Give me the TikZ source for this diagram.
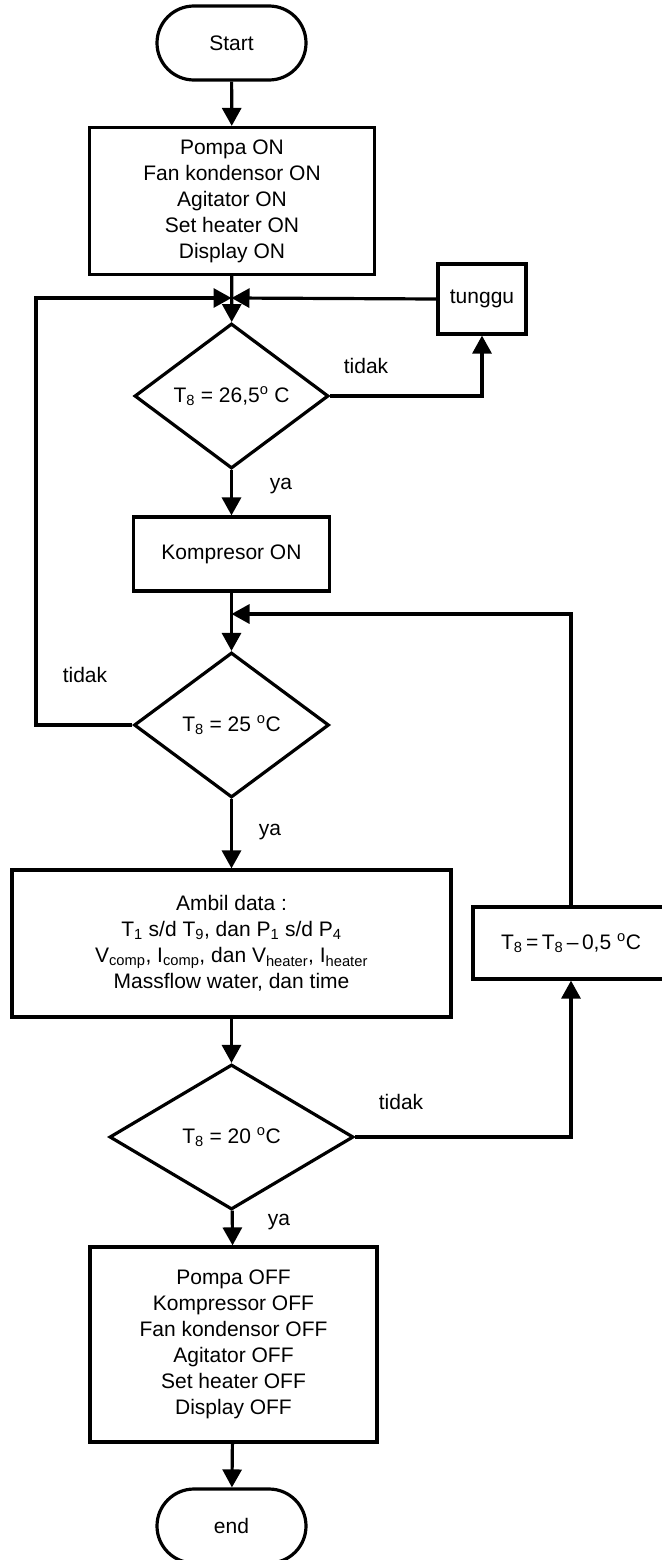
\documentclass[tikz,border=0pt]{standalone}
\usepackage{fontspec}
\setmainfont{Liberation Sans}
\usetikzlibrary{arrows.meta,shapes.geometric}
\begin{document}
\begin{tikzpicture}[x=1pt,y=-1pt,
  every node/.style={font=\fontsize{21}{26}\selectfont},
  box/.style={draw, rectangle, align=center, inner sep=0pt, line width=3.2pt},
  term/.style={draw, rectangle, rounded corners=37pt, minimum width=149pt, minimum height=74pt, line width=3.2pt},
  dec/.style={draw, diamond, inner sep=0pt, minimum height=145pt, line width=3.2pt},
  lbl/.style={inner sep=0pt},
  arr/.style={line width=3.2pt, -{Triangle[length=18pt,width=19pt]}},
  ln/.style={line width=3.2pt}]
\useasboundingbox (0,0) rectangle (661,1560);
% nodes
\node[term] (start) at (231.5,43) {Start};
\node[box, minimum width=285pt, minimum height=147pt] (b1) at (232,201)
  {Pompa ON\\Fan kondensor ON\\Agitator ON\\Set heater ON\\Display ON};
\coordinate (J) at (231.5,298);
\node[box, minimum width=88pt, minimum height=70pt] (tunggu) at (482,299) {tunggu};
\node[dec, minimum width=194pt] (d1) at (231.5,396) {T\textsubscript{8} = 26,5\textsuperscript{o} C};
\node[box, minimum width=196pt, minimum height=74pt] (komp) at (231.5,554) {Kompresor ON};
\coordinate (J2) at (231.5,614);
\node[dec, minimum width=195pt] (d2) at (231.5,725) {T\textsubscript{8} = 25 \textsuperscript{o}C};
\coordinate (L) at (36,298);
\node[box, minimum width=439pt, minimum height=147pt] (ambil) at (231.5,943.5)
  {Ambil data :\\T\textsubscript{1} s/d T\textsubscript{9}, dan P\textsubscript{1} s/d P\textsubscript{4}\\V\textsubscript{comp}, I\textsubscript{comp}, dan V\textsubscript{heater}, I\textsubscript{heater}\\Massflow water, dan time};
\node[box, minimum width=196pt, minimum height=72pt] (t8) at (571,943) {T\textsubscript{8}\,=\,T\textsubscript{8}\,--\,0,5 \textsuperscript{o}C};
\node[dec, minimum width=244pt] (d3) at (231.5,1137) {T\textsubscript{8} = 20 \textsuperscript{o}C};
\node[box, minimum width=287pt, minimum height=195pt] (b2) at (233.5,1344.5)
  {Pompa OFF\\Kompressor OFF\\Fan kondensor OFF\\Agitator OFF\\Set heater OFF\\Display OFF};
\node[term] (end) at (231.5,1526) {end};
% labels
\node[lbl] (l1) at (366,366) {tidak};
\node[lbl] (l2) at (281,486) {ya};
\node[lbl] (l3) at (85,675) {tidak};
\node[lbl] (l4) at (270,832) {ya};
\node[lbl] (l5) at (401,1102) {tidak};
\node[lbl] (l6) at (279,1222) {ya};
% connectors
\draw[arr] (start) -- (b1);
\draw[arr] (b1) -- (d1);
\draw[arr] (tunggu.west) -- (J);
\draw[arr] (d2.west) -| (L) -- (J);
\draw[arr] (d1.east) -| (tunggu.south);
\draw[arr] (d1) -- (komp);
\draw[arr] (komp) -- (d2);
\draw[arr] (t8.north) |- (J2);
\draw[arr] (d2) -- (ambil);
\draw[arr] (ambil) -- (d3);
\draw[arr] (d3.east) -| (t8.south);
\draw[arr] (d3) -- (b2);
\draw[arr] (b2) -- (end);
\end{tikzpicture}
\end{document}
